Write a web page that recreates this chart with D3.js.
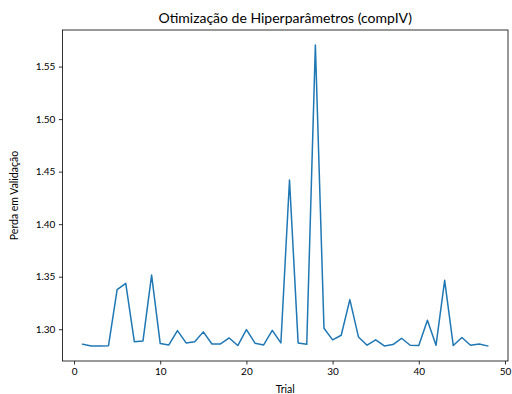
<!DOCTYPE html>
<html><head><meta charset="utf-8">
<script src="https://cdn.jsdelivr.net/npm/d3@7"></script>
<style>body{margin:0;background:#fff}svg{display:block}text{font-family:Lato,"Open Sans",sans-serif}</style>
</head><body><svg id="c" width="512" height="394"></svg>
<script>
const trials = d3.range(1, 49);
const losses = [1.2857,1.2841,1.2841,1.2844,1.3377,1.3437,1.2880,1.2889,1.3516,1.2864,
1.2851,1.2987,1.2870,1.2880,1.2975,1.2860,1.2860,1.2917,1.2845,1.2997,
1.2867,1.2851,1.2990,1.2870,1.4420,1.2870,1.2857,1.5705,1.3010,1.2899,
1.2943,1.3282,1.2927,1.2848,1.2899,1.2841,1.2854,1.2914,1.2848,1.2845,
1.3086,1.2848,1.3466,1.2845,1.2921,1.2848,1.2860,1.2841];
const xTicks = [0,10,20,30,40,50];
const yTicks = [1.30,1.35,1.40,1.45,1.50,1.55];
const title = "Otimização de Hiperparâmetros (compIV)";
const xLabel = "Trial", yLabel = "Perda em Validação";

const L = 62.4, R = 508, T = 30, B = 361;
const svg = d3.select("#c");
const xmin = d3.min(trials), xmax = d3.max(trials), xm = (xmax-xmin)*0.05;
const ymin = d3.min(losses), ymax = d3.max(losses), ym = (ymax-ymin)*0.05;
const x = d3.scaleLinear().domain([xmin-xm, xmax+xm]).range([L, R]);
const y = d3.scaleLinear().domain([ymin-ym, ymax+ym]).range([B, T]);

svg.append("path").datum(trials.map((t,i)=>[t,losses[i]]))
  .attr("fill","none").attr("stroke","#1f77b4").attr("stroke-width",1.5)
  .attr("stroke-linejoin","round").attr("stroke-linecap","square")
  .attr("d", d3.line().x(d=>x(d[0])).y(d=>y(d[1])));

const xa = svg.append("g").attr("transform",`translate(0,${B})`)
  .call(d3.axisBottom(x).tickValues(xTicks).tickSize(3.5).tickPadding(3.5).tickFormat(d3.format("d")));
const ya = svg.append("g").attr("transform",`translate(${L},0)`)
  .call(d3.axisLeft(y).tickValues(yTicks).tickSize(3.5).tickPadding(3.5).tickFormat(d3.format(".2f")));
[xa,ya].forEach(a=>{a.select(".domain").remove();a.selectAll("line").attr("stroke","#000").attr("stroke-width",0.8);
  a.selectAll("text").attr("font-size",10).attr("fill","#000").style("font-family","Lato,'Open Sans',sans-serif");});

svg.append("rect").attr("x",L).attr("y",T).attr("width",R-L).attr("height",B-T)
  .attr("fill","none").attr("stroke","#000").attr("stroke-width",0.8);

svg.append("text").attr("x",(L+R)/2).attr("y",T-7).attr("text-anchor","middle")
  .attr("font-size",14).text(title);
svg.append("text").attr("x",(L+R)/2).attr("y",393).attr("text-anchor","middle")
  .attr("font-size",10.5).text(xLabel);
svg.append("text").attr("transform",`translate(18,${(T+B)/2}) rotate(-90)`).attr("text-anchor","middle")
  .attr("font-size",10.5).text(yLabel);
</script></body></html>
